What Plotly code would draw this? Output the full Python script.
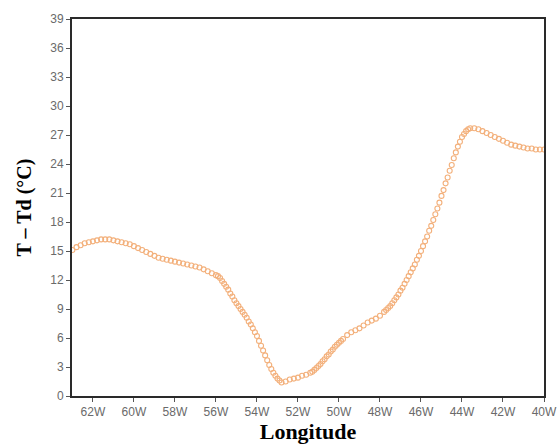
import plotly.graph_objects as go


def seg(start, stop, step):
    """Longitudes from start to stop inclusive with the given step."""
    n = int(round((stop - start) / step)) + 1
    return [round(start + step * i, 1) for i in range(n)]


# Longitude (degrees east, negative = west); sampling is finer on steep parts
lon = (seg(-63.0, -56.0, 0.2) + seg(-55.9, -52.8, 0.1) + seg(-52.6, -51.4, 0.2)
       + seg(-51.3, -49.8, 0.1) + seg(-49.6, -47.8, 0.2)
       + seg(-47.7, -43.6, 0.1) + seg(-43.4, -40.0, 0.2))

# Dew-point depression T - Td (degC) along the transect
t_minus_td = [
    # 63W .. 56W (0.2)
    15.1, 15.4, 15.6, 15.8, 15.9, 16.0, 16.1, 16.2, 16.2, 16.2,
    16.1, 16.0, 15.9, 15.8, 15.7, 15.5, 15.3, 15.1, 14.9, 14.7,
    14.5, 14.3, 14.2, 14.1, 14.0, 13.9, 13.8, 13.7, 13.6, 13.5,
    13.4, 13.3, 13.1, 12.9, 12.7, 12.5,
    # 55.9W .. 52.8W (0.1)
    12.4, 12.2, 11.9, 11.6, 11.3, 11.0, 10.6, 10.3, 9.9, 9.6,
    9.3, 9.0, 8.7, 8.4, 8.1, 7.7, 7.4, 7.0, 6.6, 6.2,
    5.7, 5.2, 4.7, 4.2, 3.7, 3.2, 2.8, 2.4, 2.1, 1.8,
    1.6, 1.4,
    # 52.6W .. 51.4W (0.2)
    1.5, 1.7, 1.8, 1.9, 2.1, 2.2, 2.4,
    # 51.3W .. 49.8W (0.1)
    2.5, 2.7, 2.9, 3.1, 3.3, 3.6, 3.8, 4.1, 4.3, 4.6,
    4.8, 5.1, 5.3, 5.5, 5.7, 5.9,
    # 49.6W .. 47.8W (0.2)
    6.3, 6.6, 6.8, 7.0, 7.3, 7.6, 7.8, 8.0, 8.3, 8.7,
    # 47.7W .. 43.6W (0.1)
    8.9, 9.1, 9.3, 9.6, 9.9, 10.2, 10.5, 10.9, 11.2, 11.6,
    12.0, 12.4, 12.8, 13.2, 13.6, 14.1, 14.5, 15.0, 15.5, 16.0,
    16.5, 17.1, 17.6, 18.2, 18.8, 19.4, 20.0, 20.7, 21.3, 22.0,
    22.6, 23.3, 23.9, 24.6, 25.2, 25.8, 26.3, 26.8, 27.1, 27.4,
    27.6, 27.7,
    # 43.4W .. 40W (0.2)
    27.7, 27.6, 27.4, 27.2, 27.0, 26.8, 26.6, 26.4, 26.2, 26.0,
    25.9, 25.8, 25.7, 25.6, 25.6, 25.5, 25.5, 25.5,
]

x_tick_vals = [-62, -60, -58, -56, -54, -52, -50, -48, -46, -44, -42, -40]
x_tick_text = ["62W", "60W", "58W", "56W", "54W", "52W", "50W", "48W",
               "46W", "44W", "42W", "40W"]
y_tick_vals = list(range(0, 40, 3))

fig = go.Figure()
fig.add_trace(go.Scatter(
    x=lon, y=t_minus_td, mode="markers",
    marker=dict(symbol="circle-open", size=5, color="#f3b07b",
                line=dict(width=1.1, color="#f3b07b")),
    showlegend=False,
))

axis_common = dict(
    showline=True, linecolor="#2a2a2a", linewidth=2, mirror=True,
    showgrid=False, zeroline=False,
    ticks="outside", ticklen=4, tickcolor="#555555", tickwidth=1,
    tickfont=dict(family="Liberation Sans, Arial, sans-serif",
                  size=12, color="#6a6a6a"),
)

fig.update_layout(
    width=559, height=445,
    margin=dict(l=72, r=15, t=19, b=49, autoexpand=False),
    paper_bgcolor="white", plot_bgcolor="white",
    xaxis=dict(
        range=[-63.02, -40], tickvals=x_tick_vals, ticktext=x_tick_text,
        title=dict(text="<b>Longitude</b>", standoff=2,
                   font=dict(family="Liberation Serif, Times New Roman, serif",
                             size=22, color="black")),
        **axis_common,
    ),
    yaxis=dict(
        range=[0, 39], tickvals=y_tick_vals,
        title=dict(text="<b>T – Td (°C)</b>", standoff=13,
                   font=dict(family="Liberation Serif, Times New Roman, serif",
                             size=20, color="black")),
        **axis_common,
    ),
)

fig.write_html("out.html")
